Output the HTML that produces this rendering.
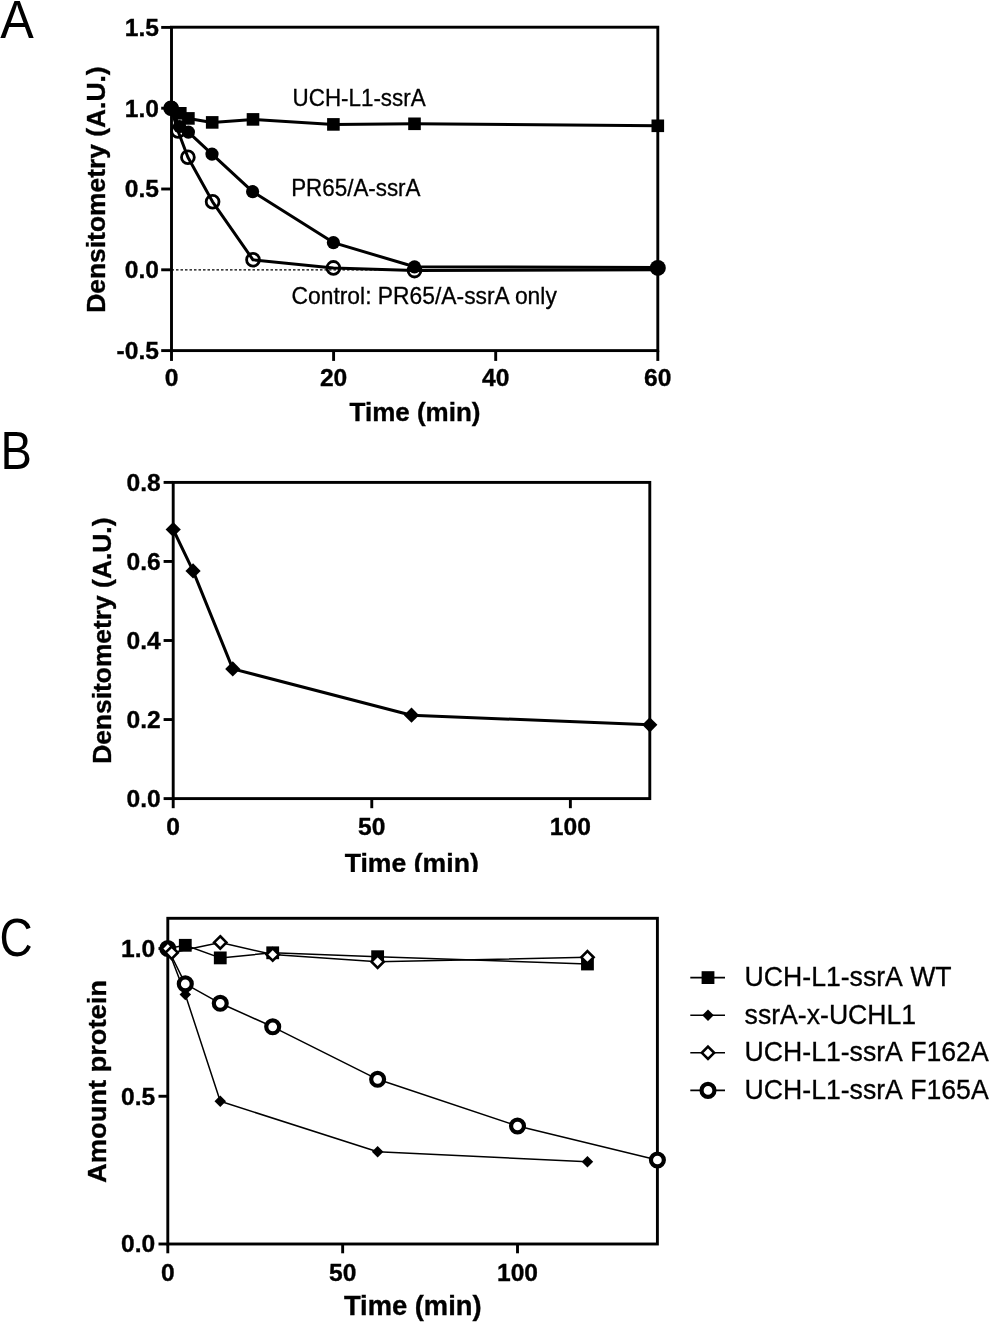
<!DOCTYPE html>
<html lang="en"><head><meta charset="utf-8"><title>Figure</title>
<style>html,body{margin:0;padding:0;background:#fff}svg{display:block}svg text{font-family:"Liberation Sans",sans-serif;fill:#000}.b{font-weight:bold;stroke:#000;stroke-width:.35px}.r{stroke:#000;stroke-width:.3px}</style></head><body>
<svg width="990" height="1325" viewBox="0 0 990 1325">
<rect width="990" height="1325" fill="#fff"/>
<text transform="translate(0.2 37.8) scale(0.94 1)" font-size="53.5" class="l">A</text>
<text transform="translate(0.6 469.4) scale(0.88 1)" font-size="53.5" class="l">B</text>
<text transform="translate(-0.4 956.3) scale(0.85 1)" font-size="54" class="l">C</text>
<rect x="171.5" y="27.2" width="486.30" height="323.40" fill="none" stroke="#000" stroke-width="2.9"/>
<line x1="171.50" y1="350.6" x2="171.50" y2="360.90" stroke="#000" stroke-width="2.9"/>
<text x="171.50" y="386.10" text-anchor="middle" font-size="24.6" class="b">0</text>
<line x1="333.60" y1="350.6" x2="333.60" y2="360.90" stroke="#000" stroke-width="2.9"/>
<text x="333.60" y="386.10" text-anchor="middle" font-size="24.6" class="b">20</text>
<line x1="495.70" y1="350.6" x2="495.70" y2="360.90" stroke="#000" stroke-width="2.9"/>
<text x="495.70" y="386.10" text-anchor="middle" font-size="24.6" class="b">40</text>
<line x1="657.80" y1="350.6" x2="657.80" y2="360.90" stroke="#000" stroke-width="2.9"/>
<text x="657.80" y="386.10" text-anchor="middle" font-size="24.6" class="b">60</text>
<line x1="161.20" y1="27.40" x2="171.5" y2="27.40" stroke="#000" stroke-width="2.9"/>
<text x="159.00" y="35.71" text-anchor="end" font-size="24.6" class="b">1.5</text>
<line x1="161.20" y1="108.20" x2="171.5" y2="108.20" stroke="#000" stroke-width="2.9"/>
<text x="159.00" y="116.51" text-anchor="end" font-size="24.6" class="b">1.0</text>
<line x1="161.20" y1="189.00" x2="171.5" y2="189.00" stroke="#000" stroke-width="2.9"/>
<text x="159.00" y="197.31" text-anchor="end" font-size="24.6" class="b">0.5</text>
<line x1="161.20" y1="269.80" x2="171.5" y2="269.80" stroke="#000" stroke-width="2.9"/>
<text x="159.00" y="278.11" text-anchor="end" font-size="24.6" class="b">0.0</text>
<line x1="161.20" y1="350.60" x2="171.5" y2="350.60" stroke="#000" stroke-width="2.9"/>
<text x="159.00" y="358.91" text-anchor="end" font-size="24.6" class="b">-0.5</text>
<line x1="171.5" y1="269.80" x2="657.8" y2="269.80" stroke="#000" stroke-width="1.3" stroke-dasharray="2.5 2"/>
<polyline fill="none" stroke="#000" stroke-width="3.0" stroke-linejoin="round" points="171.00,108.30 178.00,131.00 187.90,157.30 212.60,201.80 253.00,259.80 333.40,267.90 414.50,270.60 657.80,269.70"/>
<polyline fill="none" stroke="#000" stroke-width="3.0" stroke-linejoin="round" points="171.00,108.30 179.60,126.50 188.40,132.10 212.00,154.10 252.60,191.70 333.40,242.60 414.50,266.80 657.80,267.50"/>
<polyline fill="none" stroke="#000" stroke-width="3.0" stroke-linejoin="round" points="171.00,108.30 180.30,113.30 188.40,118.40 212.20,122.40 253.00,119.40 333.40,124.40 414.50,123.80 657.80,125.80"/>
<circle cx="171.00" cy="108.30" r="6.4" fill="none" stroke="#000" stroke-width="2.8"/>
<circle cx="178.00" cy="131.00" r="6.4" fill="none" stroke="#000" stroke-width="2.8"/>
<circle cx="187.90" cy="157.30" r="6.4" fill="none" stroke="#000" stroke-width="2.8"/>
<circle cx="212.60" cy="201.80" r="6.4" fill="none" stroke="#000" stroke-width="2.8"/>
<circle cx="253.00" cy="259.80" r="6.4" fill="none" stroke="#000" stroke-width="2.8"/>
<circle cx="333.40" cy="267.90" r="6.4" fill="none" stroke="#000" stroke-width="2.8"/>
<circle cx="414.50" cy="270.60" r="6.4" fill="none" stroke="#000" stroke-width="2.8"/>
<circle cx="171.00" cy="108.30" r="6.6" fill="#000"/>
<circle cx="179.60" cy="126.50" r="6.6" fill="#000"/>
<circle cx="188.40" cy="132.10" r="6.6" fill="#000"/>
<circle cx="212.00" cy="154.10" r="6.6" fill="#000"/>
<circle cx="252.60" cy="191.70" r="6.6" fill="#000"/>
<circle cx="333.40" cy="242.60" r="6.6" fill="#000"/>
<circle cx="414.50" cy="266.80" r="6.6" fill="#000"/>
<circle cx="657.80" cy="267.90" r="8" fill="#000"/>
<rect x="174.00" y="107.00" width="12.6" height="12.6" fill="#000"/>
<rect x="182.10" y="112.10" width="12.6" height="12.6" fill="#000"/>
<rect x="205.90" y="116.10" width="12.6" height="12.6" fill="#000"/>
<rect x="246.70" y="113.10" width="12.6" height="12.6" fill="#000"/>
<rect x="327.10" y="118.10" width="12.6" height="12.6" fill="#000"/>
<rect x="408.20" y="117.50" width="12.6" height="12.6" fill="#000"/>
<rect x="651.50" y="119.50" width="12.6" height="12.6" fill="#000"/>
<circle cx="171.60" cy="108.30" r="7.5" fill="#000"/>
<text transform="translate(292.6 105.6) scale(0.965 1)" text-anchor="start" font-size="23.2" class="r">UCH-L1-ssrA</text>
<text transform="translate(291.2 196) scale(0.965 1)" text-anchor="start" font-size="23.2" class="r">PR65/A-ssrA</text>
<text transform="translate(291.5 303.7) scale(0.985 1)" text-anchor="start" font-size="23.2" class="r">Control: PR65/A-ssrA only</text>
<text x="415" y="420.5" text-anchor="middle" font-size="26" class="b">Time (min)</text>
<text transform="translate(104.5 189.6) rotate(-90)" text-anchor="middle" font-size="26.4" class="b">Densitometry (A.U.)</text>
<clipPath id="cb"><rect x="0" y="430" width="990" height="442"/></clipPath>
<rect x="173.2" y="482.4" width="476.60" height="316.20" fill="none" stroke="#000" stroke-width="2.9"/>
<line x1="173.20" y1="798.6" x2="173.20" y2="808.20" stroke="#000" stroke-width="2.9"/>
<text x="173.20" y="834.90" text-anchor="middle" font-size="24.6" class="b">0</text>
<line x1="371.78" y1="798.6" x2="371.78" y2="808.20" stroke="#000" stroke-width="2.9"/>
<text x="371.78" y="834.90" text-anchor="middle" font-size="24.6" class="b">50</text>
<line x1="570.37" y1="798.6" x2="570.37" y2="808.20" stroke="#000" stroke-width="2.9"/>
<text x="570.37" y="834.90" text-anchor="middle" font-size="24.6" class="b">100</text>
<line x1="163.60" y1="482.40" x2="173.2" y2="482.40" stroke="#000" stroke-width="2.9"/>
<text x="160.70" y="490.71" text-anchor="end" font-size="24.6" class="b">0.8</text>
<line x1="163.60" y1="561.45" x2="173.2" y2="561.45" stroke="#000" stroke-width="2.9"/>
<text x="160.70" y="569.76" text-anchor="end" font-size="24.6" class="b">0.6</text>
<line x1="163.60" y1="640.50" x2="173.2" y2="640.50" stroke="#000" stroke-width="2.9"/>
<text x="160.70" y="648.81" text-anchor="end" font-size="24.6" class="b">0.4</text>
<line x1="163.60" y1="719.55" x2="173.2" y2="719.55" stroke="#000" stroke-width="2.9"/>
<text x="160.70" y="727.86" text-anchor="end" font-size="24.6" class="b">0.2</text>
<line x1="163.60" y1="798.60" x2="173.2" y2="798.60" stroke="#000" stroke-width="2.9"/>
<text x="160.70" y="806.91" text-anchor="end" font-size="24.6" class="b">0.0</text>
<polyline fill="none" stroke="#000" stroke-width="3.0" stroke-linejoin="round" points="173.20,529.50 193.06,570.90 232.77,668.90 411.50,715.20 649.80,724.80"/>
<path d="M173.20 521.90L180.80 529.50L173.20 537.10L165.60 529.50Z" fill="#000"/>
<path d="M193.06 563.30L200.66 570.90L193.06 578.50L185.46 570.90Z" fill="#000"/>
<path d="M232.77 661.30L240.37 668.90L232.77 676.50L225.17 668.90Z" fill="#000"/>
<path d="M411.50 707.60L419.10 715.20L411.50 722.80L403.90 715.20Z" fill="#000"/>
<path d="M649.80 717.20L657.40 724.80L649.80 732.40L642.20 724.80Z" fill="#000"/>
<g clip-path="url(#cb)">
<text transform="translate(411.7 871.7) scale(1.02 1)" text-anchor="middle" font-size="26.1" class="b">Time (min)</text>
</g>
<text transform="translate(111.3 640.7) rotate(-90)" text-anchor="middle" font-size="26.4" class="b">Densitometry (A.U.)</text>
<rect x="167.8" y="918.3" width="489.60" height="325.70" fill="none" stroke="#000" stroke-width="2.9"/>
<line x1="167.80" y1="1244.0" x2="167.80" y2="1253.30" stroke="#000" stroke-width="2.9"/>
<text x="167.80" y="1281.00" text-anchor="middle" font-size="24.6" class="b">0</text>
<line x1="342.66" y1="1244.0" x2="342.66" y2="1253.30" stroke="#000" stroke-width="2.9"/>
<text x="342.66" y="1281.00" text-anchor="middle" font-size="24.6" class="b">50</text>
<line x1="517.51" y1="1244.0" x2="517.51" y2="1253.30" stroke="#000" stroke-width="2.9"/>
<text x="517.51" y="1281.00" text-anchor="middle" font-size="24.6" class="b">100</text>
<line x1="158.50" y1="948.50" x2="167.8" y2="948.50" stroke="#000" stroke-width="2.9"/>
<text x="155.30" y="956.81" text-anchor="end" font-size="24.6" class="b">1.0</text>
<line x1="158.50" y1="1096.25" x2="167.8" y2="1096.25" stroke="#000" stroke-width="2.9"/>
<text x="155.30" y="1104.56" text-anchor="end" font-size="24.6" class="b">0.5</text>
<line x1="158.50" y1="1244.00" x2="167.8" y2="1244.00" stroke="#000" stroke-width="2.9"/>
<text x="155.30" y="1252.31" text-anchor="end" font-size="24.6" class="b">0.0</text>
<polyline fill="none" stroke="#000" stroke-width="1.5" stroke-linejoin="round" points="167.80,948.50 185.29,945.30 220.26,957.90 272.71,952.80 377.63,956.70 587.46,964.00"/>
<polyline fill="none" stroke="#000" stroke-width="1.5" stroke-linejoin="round" points="167.80,948.50 185.29,994.50 220.26,1101.30 377.63,1151.70 587.46,1161.70"/>
<polyline fill="none" stroke="#000" stroke-width="1.5" stroke-linejoin="round" points="167.80,948.60 171.65,952.70 220.26,942.40 272.71,954.60 377.63,961.70 587.46,957.30"/>
<polyline fill="none" stroke="#000" stroke-width="1.5" stroke-linejoin="round" points="167.80,948.50 185.29,983.90 220.26,1003.30 272.71,1026.80 377.63,1079.30 517.51,1126.00 657.40,1160.00"/>
<rect x="178.89" y="938.90" width="12.8" height="12.8" fill="#000"/>
<rect x="213.86" y="951.50" width="12.8" height="12.8" fill="#000"/>
<rect x="266.31" y="946.40" width="12.8" height="12.8" fill="#000"/>
<rect x="371.23" y="950.30" width="12.8" height="12.8" fill="#000"/>
<rect x="581.06" y="957.60" width="12.8" height="12.8" fill="#000"/>
<path d="M185.29 988.75L191.04 994.50L185.29 1000.25L179.54 994.50Z" fill="#000"/>
<path d="M220.26 1095.55L226.01 1101.30L220.26 1107.05L214.51 1101.30Z" fill="#000"/>
<path d="M377.63 1145.95L383.38 1151.70L377.63 1157.45L371.88 1151.70Z" fill="#000"/>
<path d="M587.46 1155.95L593.21 1161.70L587.46 1167.45L581.71 1161.70Z" fill="#000"/>
<circle cx="167.80" cy="948.50" r="6.45" fill="#fff" stroke="#000" stroke-width="4.2"/>
<circle cx="185.29" cy="983.90" r="6.45" fill="#fff" stroke="#000" stroke-width="4.2"/>
<circle cx="220.26" cy="1003.30" r="6.45" fill="#fff" stroke="#000" stroke-width="4.2"/>
<circle cx="272.71" cy="1026.80" r="6.45" fill="#fff" stroke="#000" stroke-width="4.2"/>
<circle cx="377.63" cy="1079.30" r="6.45" fill="#fff" stroke="#000" stroke-width="4.2"/>
<circle cx="517.51" cy="1126.00" r="6.45" fill="#fff" stroke="#000" stroke-width="4.2"/>
<circle cx="657.40" cy="1160.00" r="6.45" fill="#fff" stroke="#000" stroke-width="4.2"/>
<path d="M167.80 942.45L173.95 948.60L167.80 954.75L161.65 948.60Z" fill="#fff" stroke="#000" stroke-width="2.6" stroke-linejoin="miter"/>
<path d="M171.65 946.55L177.80 952.70L171.65 958.85L165.50 952.70Z" fill="#fff" stroke="#000" stroke-width="2.6" stroke-linejoin="miter"/>
<path d="M220.26 936.25L226.41 942.40L220.26 948.55L214.11 942.40Z" fill="#fff" stroke="#000" stroke-width="2.6" stroke-linejoin="miter"/>
<path d="M272.71 948.45L278.86 954.60L272.71 960.75L266.56 954.60Z" fill="#fff" stroke="#000" stroke-width="2.6" stroke-linejoin="miter"/>
<path d="M377.63 955.55L383.78 961.70L377.63 967.85L371.48 961.70Z" fill="#fff" stroke="#000" stroke-width="2.6" stroke-linejoin="miter"/>
<path d="M587.46 951.15L593.61 957.30L587.46 963.45L581.31 957.30Z" fill="#fff" stroke="#000" stroke-width="2.6" stroke-linejoin="miter"/>
<text transform="translate(412.7 1315.2) scale(1.02 1)" text-anchor="middle" font-size="26.8" class="b">Time (min)</text>
<text transform="translate(106.3 1081.5) rotate(-90) scale(1.025 1)" text-anchor="middle" font-size="26.6" class="b">Amount protein</text>
<line x1="690.3" y1="977.6" x2="725" y2="977.6" stroke="#000" stroke-width="1.6"/>
<rect x="701.60" y="971.20" width="12.8" height="12.8" fill="#000"/>
<text transform="translate(744.6 986.2) scale(0.965 1)" text-anchor="start" font-size="27.6" word-spacing="1.5" class="r">UCH-L1-ssrA WT</text>
<line x1="690.3" y1="1015.2" x2="725" y2="1015.2" stroke="#000" stroke-width="1.6"/>
<path d="M708.00 1009.45L713.75 1015.20L708.00 1020.95L702.25 1015.20Z" fill="#000"/>
<text transform="translate(744.6 1023.8) scale(0.965 1)" text-anchor="start" font-size="27.6" word-spacing="1.5" class="r">ssrA-x-UCHL1</text>
<line x1="690.3" y1="1052.8" x2="725" y2="1052.8" stroke="#000" stroke-width="1.6"/>
<path d="M708.00 1046.65L714.15 1052.80L708.00 1058.95L701.85 1052.80Z" fill="#fff" stroke="#000" stroke-width="2.6" stroke-linejoin="miter"/>
<text transform="translate(744.6 1061.4) scale(0.965 1)" text-anchor="start" font-size="27.6" word-spacing="1.5" class="r">UCH-L1-ssrA F162A</text>
<line x1="690.3" y1="1090.4" x2="725" y2="1090.4" stroke="#000" stroke-width="1.6"/>
<circle cx="708.00" cy="1090.40" r="6.45" fill="#fff" stroke="#000" stroke-width="4.2"/>
<text transform="translate(744.6 1099.0) scale(0.965 1)" text-anchor="start" font-size="27.6" word-spacing="1.5" class="r">UCH-L1-ssrA F165A</text>
</svg></body></html>
